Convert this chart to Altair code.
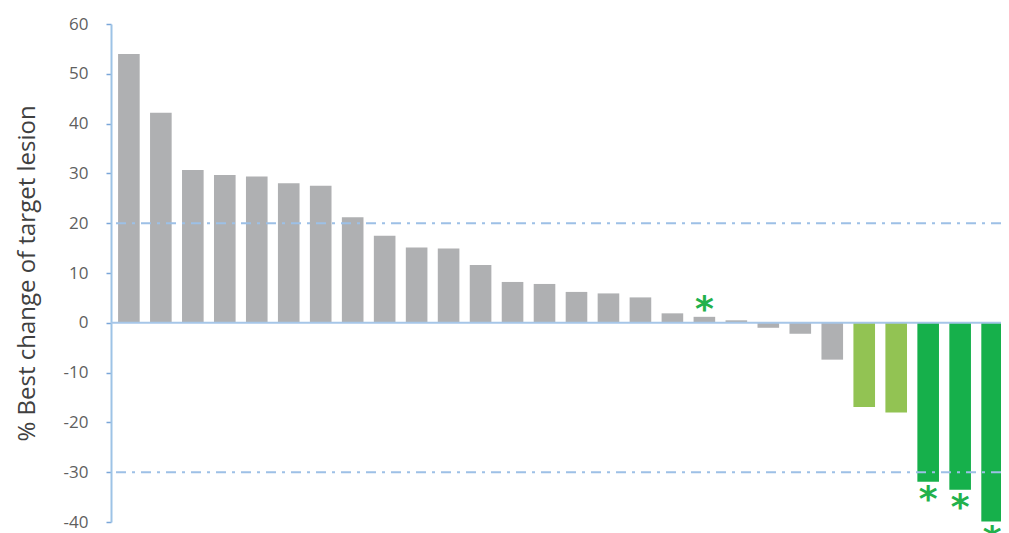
import altair as alt
import pandas as pd

patients = list(range(1, 29))
values = [54.0, 42.2, 30.7, 29.7, 29.4, 28.0, 27.5, 21.2, 17.5, 15.1, 14.9, 11.6,
          8.2, 7.8, 6.2, 5.9, 5.1, 1.9, 1.2, 0.5, -1.0, -2.2, -7.4, -16.9, -18.0,
          -31.9, -33.5, -39.9]
groups = ["grey"] * 23 + ["light"] * 2 + ["dark"] * 3
stars = [False] * 18 + [True] + [False] * 6 + [True] * 3
ref_lines = [20, -30]

df = pd.DataFrame({"patient": patients, "value": values, "group": groups, "star": stars})

xenc = alt.X(
    "patient:O",
    axis=None,
    scale=alt.Scale(paddingInner=0.324, paddingOuter=0.19, range=[1, 898]),
)
yscale = alt.Scale(domain=[-40, 60], nice=False)

base = alt.Chart(df)

bars = base.mark_bar().encode(
    x=xenc,
    y=alt.Y(
        "value:Q",
        scale=yscale,
        axis=alt.Axis(
            values=list(range(-40, 61, 10)),
            labelExpr="toString(datum.value)",
            title="% Best change of target lesion",
            titleFontSize=24,
            titleFont="Open Sans",
            titleFontWeight="normal",
            titleColor="#404040",
            labelFontSize=17,
            labelFont="Open Sans",
            labelColor="#5f5f5f",
            domainColor="#9dc3e6",
            domainWidth=2,
            tickColor="#7aa6d8",
            tickSize=5,
            tickWidth=1.5,
            labelPadding=18,
            titlePadding=24,
            grid=False,
        ),
    ),
    color=alt.Color(
        "group:N",
        scale=alt.Scale(domain=["grey", "light", "dark"], range=["#afb0b2", "#92c353", "#16b04b"]),
        legend=None,
    ),
)

zero = alt.Chart(pd.DataFrame({"y": [0]})).mark_rule(color="#a6c6e8", strokeWidth=2).encode(
    y=alt.Y("y:Q", scale=yscale)
)

refs = alt.Chart(pd.DataFrame({"y": ref_lines})).mark_rule(
    color="#9dc0e6", strokeWidth=2, strokeDash=[10, 6, 3, 6]
).encode(y=alt.Y("y:Q", scale=yscale))

star_pos = base.transform_filter("datum.star && datum.value > 0").mark_text(
    text="*", dy=-7, fontSize=36, fontWeight="bold", font="DejaVu Sans", color="#22b14c"
).encode(x=xenc, y=alt.Y("value:Q", scale=yscale))

star_neg = base.transform_filter("datum.star && datum.value < 0").mark_text(
    text="*", dy=18, fontSize=36, fontWeight="bold", font="DejaVu Sans", color="#22b14c"
).encode(x=xenc, y=alt.Y("value:Q", scale=yscale))

chart = (
    alt.layer(bars, zero, refs, star_pos, star_neg)
    .properties(
        width=890,
        height=498,
        autosize=alt.AutoSizeParams(type="none"),
        padding={"left": 103, "top": 16, "right": 0, "bottom": 11},
        background="white",
    )
    .configure_view(stroke=None)
)

chart.save("out.html", embed_options={"renderer": "svg", "actions": False})
